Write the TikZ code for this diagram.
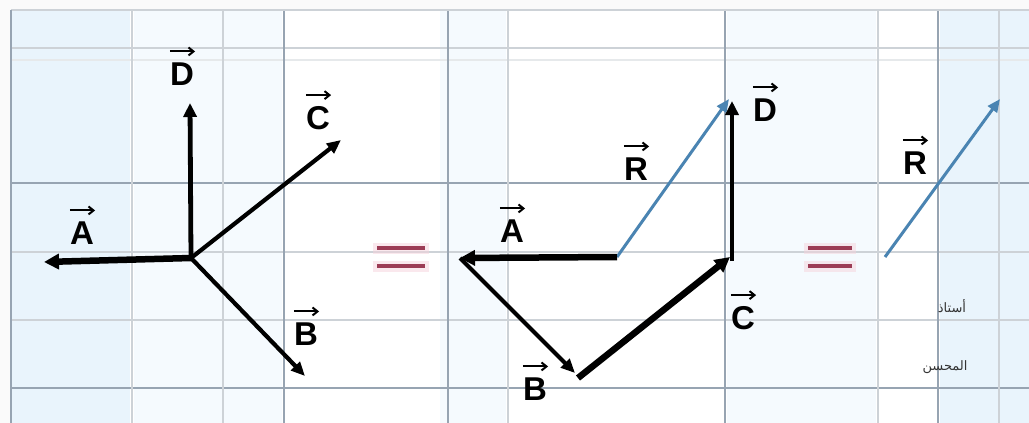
\documentclass[tikz,border=0pt]{standalone}
\usepackage{fontspec}
\setmainfont{Liberation Sans}
\newfontfamily\arabicfont[Script=Arabic]{DejaVu Sans}
\TeXXeTstate=1
\usetikzlibrary{arrows.meta}
\definecolor{gridd}{HTML}{97A4B2}
\definecolor{gridl}{HTML}{CDD2D7}
\definecolor{bgblue}{HTML}{F5FAFE}
\definecolor{bgdeep}{HTML}{E9F4FC}
\definecolor{vblue}{HTML}{4A84B2}
\definecolor{eqred}{HTML}{9C3C55}
\definecolor{eqglow}{HTML}{F6D3DC}
\tikzset{
  vecthick/.style={line width=6.5pt,-{Triangle[length=15pt,width=15pt]}},
  vecmid/.style={line width=4.8pt,-{Triangle[length=14pt,width=13pt]}},
  vecthin/.style={line width=4.2pt,-{Triangle[length=14pt,width=12pt]}},
  vecres/.style={vblue,line width=3pt,-{Triangle[length=13pt,width=11pt]}},
  vlabel/.style={inner sep=0pt,font=\bfseries\fontsize{33}{33}\selectfont},
  overarrow/.style={line width=2pt,-{Straight Barb[length=5pt,width=8pt]}},
  gridmajor/.style={gridd,line width=2pt},
  gridminor/.style={gridl,line width=1.8pt},
  eqbar/.style={eqred,line width=4.5pt},
  eqhalo/.style={eqglow,line width=11pt},
}
\begin{document}
\begin{tikzpicture}[x=1pt,y=-1pt]
\useasboundingbox (0,0) rectangle (1029,423);
% background
\fill[white!96!gray] (0,0) rectangle (1029,423);
\fill[white] (11,10) rectangle (1029,423);
\fill[bgdeep] (11,10) rectangle (130,423);
\fill[bgblue] (134,10) rectangle (282,423);
\fill[bgblue] (440,10) rectangle (506,423);
\fill[bgblue] (727,10) rectangle (876,423);
\fill[bgdeep] (940,10) rectangle (1029,423);
% grid
\foreach \y in {48,252,320} \draw[gridminor] (11,\y) -- (1029,\y);
\draw[gridl!50!white,line width=1.4pt] (11,60) -- (1029,60);
\foreach \y in {183,388} \draw[gridmajor] (11,\y) -- (1029,\y);
\foreach \x in {132,223,508,878,999} \draw[gridminor] (\x,10) -- (\x,423);
\foreach \x in {284,448,725,938} \draw[gridmajor] (\x,10) -- (\x,423);
\draw[gridl,line width=2.6pt] (11,10) -- (1029,10);
\draw[gridd,line width=2.6pt] (11,10) -- (11,423);

% ---------- left panel ----------
\coordinate (O) at (191,258);
\coordinate (Atip) at (44,262);
\coordinate (Dtip) at (190,103);
\coordinate (Ctip) at (341,140);
\coordinate (Btip) at (305,376);
\draw[vecthick] (O) -- (Atip);
\draw[vecmid] (O) -- (Dtip);
\draw[vecthin] (O) -- (Ctip);
\draw[vecthin] (O) -- (Btip);
\node[vlabel] (lA) at (82,233) {A};
\node[vlabel] (lD) at (182,74) {D};
\node[vlabel] (lC) at (318,118) {C};
\node[vlabel] (lB) at (306,334) {B};

% ---------- equals signs ----------
\foreach \y in {248,266} {
  \draw[eqhalo,opacity=.5] (373,\y) -- (429,\y);
  \draw[eqbar] (377,\y) -- (425,\y);
  \draw[eqhalo,opacity=.5] (804,\y) -- (856,\y);
  \draw[eqbar] (808,\y) -- (852,\y);
}

% ---------- middle panel ----------
\coordinate (P) at (617,257);
\coordinate (MA) at (460,258);
\coordinate (MB) at (575,373);
\coordinate (MBs) at (578,378);
\coordinate (MC) at (730,257);
\coordinate (MCs) at (732,261);
\coordinate (MD) at (732,101);
\coordinate (MR) at (729,99);
\draw[vecres] (P) -- (MR);
\draw[vecthick] (P) -- (MA);
\draw[vecthin] (MA) -- (MB);
\draw[vecthick] (MBs) -- (MC);
\draw[vecmid] (MCs) -- (MD);
\node[vlabel] (mlR) at (636,169) {R};
\node[vlabel] (mlA) at (512,231) {A};
\node[vlabel] (mlD) at (765,110) {D};
\node[vlabel] (mlC) at (743,318) {C};
\node[vlabel] (mlB) at (535,389) {B};

% ---------- right panel ----------
\coordinate (Q) at (885,257);
\coordinate (QR) at (1000,99);
\draw[vecres] (Q) -- (QR);
\node[vlabel] (rlR) at (915,163) {R};

% arrows over the letters
\foreach \n in {lA,lD,lC,lB,mlR,mlA,mlD,mlC,mlB,rlR}
  \draw[overarrow] ([shift={(0pt,11pt)}]\n.north west) -- ([shift={(1pt,11pt)}]\n.north east);

% small text
\node[inner sep=0pt,text=black!80,font=\arabicfont\fontsize{13}{13}\selectfont] (t1) at (952,306) {\beginR أستاذ\endR};
\node[inner sep=0pt,text=black!80,font=\arabicfont\fontsize{13}{13}\selectfont] (t2) at (945,367) {\beginR المحسن\endR};
\end{tikzpicture}
\end{document}
